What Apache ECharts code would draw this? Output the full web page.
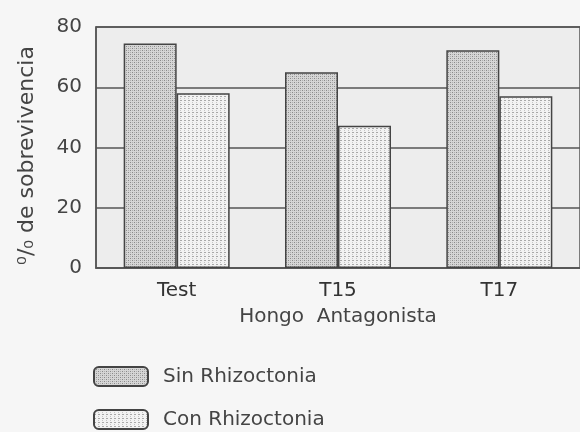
<!DOCTYPE html>
<html>
<head>
<meta charset="utf-8">
<script src="https://cdn.jsdelivr.net/npm/echarts@6/dist/echarts.min.js"></script>
<style>
  html, body { margin: 0; padding: 0; background: #f6f6f6; }
  #chart { width: 580px; height: 432px; }
</style>
</head>
<body>
<div id="chart"></div>
<script>
// datos
var categorias = ['Test', 'T15', 'T17'];
var sinRhizoctonia = [74.5, 65, 72.3];
var conRhizoctonia = [58, 47.2, 57];
var yTicks = [0, 20, 40, 60, 80];

// tramas de las barras (puntos tipo fotocopia)
function trama(tipo) {
    var c = document.createElement('canvas');
    c.width = 4; c.height = 4;
    var ctx = c.getContext('2d');
    if (tipo == 'sin') {
        ctx.fillStyle = '#d6d6d6';
        ctx.fillRect(0, 0, 4, 4);
        ctx.fillStyle = '#8a8a8a';
        ctx.fillRect(0, 0, 1, 1);
        ctx.fillRect(2, 2, 1, 1);
        ctx.fillStyle = '#b0b0b0';
        ctx.fillRect(2, 0, 1, 1);
        ctx.fillRect(0, 2, 1, 1);
    } else {
        ctx.fillStyle = '#f2f2f2';
        ctx.fillRect(0, 0, 4, 4);
        ctx.fillStyle = '#a8a8a8';
        ctx.fillRect(0, 0, 2, 1);
        ctx.fillStyle = '#c4c4c4';
        ctx.fillRect(0, 2, 1, 1);
    }
    return { image: c, repeat: 'repeat' };
}

var chart = echarts.init(document.getElementById('chart'));
var option = {
    backgroundColor: '#f6f6f6',
    animation: false,
    textStyle: { fontFamily: 'DejaVu Sans', color: '#3a3a3a' },
    legend: {
        orient: 'vertical',
        left: 93,
        top: 366,
        bottom: 0,
        padding: 0,
        itemWidth: 54,
        itemHeight: 19,
        itemGap: 22,
        textStyle: { fontSize: 20, lineHeight: 21, color: '#444', padding: [0, 0, 0, 10] },
        data: ['Sin Rhizoctonia', 'Con Rhizoctonia']
    },
    grid: {
        left: 96,
        top: 27,
        width: 486,
        height: 241,
        show: true,
        backgroundColor: '#ededed',
        borderColor: '#555',
        borderWidth: 1.5
    },
    xAxis: {
        type: 'category',
        data: categorias,
        name: 'Hongo  Antagonista',
        nameLocation: 'middle',
        nameGap: 39,
        nameTextStyle: { fontSize: 20, color: '#444' },
        axisLine: { lineStyle: { color: '#555', width: 1.5 } },
        axisTick: { show: false },
        axisLabel: { fontSize: 20, color: '#333', margin: 13 }
    },
    yAxis: {
        type: 'value',
        min: yTicks[0],
        max: yTicks[yTicks.length - 1],
        interval: 20,
        name: '\u2070/\u2080 de sobrevivencia',
        nameLocation: 'middle',
        nameGap: 58,
        nameTextStyle: { fontSize: 22, color: '#444', padding: [0, 16, 0, 0] },
        axisLine: { show: true, lineStyle: { color: '#555', width: 1.5 } },
        axisTick: { show: false },
        axisLabel: { fontSize: 20, color: '#444', margin: 14 },
        splitLine: { lineStyle: { color: '#555', width: 1.5 } }
    },
    series: [
        {
            name: 'Sin Rhizoctonia',
            type: 'bar',
            data: sinRhizoctonia,
            barWidth: 53,
            barGap: '0%',
            itemStyle: { color: trama('sin'), borderColor: '#444', borderWidth: 1.5 }
        },
        {
            name: 'Con Rhizoctonia',
            type: 'bar',
            data: conRhizoctonia,
            barWidth: 53,
            barGap: '0%',
            itemStyle: { color: trama('con'), borderColor: '#444', borderWidth: 1.5 }
        }
    ]
};
chart.setOption(option);
</script>
</body>
</html>
